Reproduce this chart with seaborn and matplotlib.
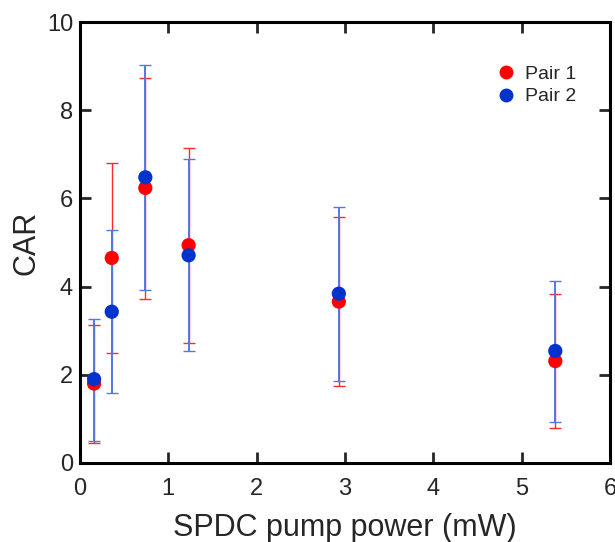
import numpy as np
import pandas as pd
import matplotlib
matplotlib.use("Agg")
import matplotlib.pyplot as plt
import seaborn as sns

# Values
power = [0.16, 0.36, 0.74, 1.23, 2.93, 5.38]

car_pair1 = [1.80, 4.65, 6.24, 4.94, 3.66, 2.31]
lo_pair1 = [0.46, 2.49, 3.73, 2.71, 1.74, 0.80]
hi_pair1 = [3.13, 6.80, 8.74, 7.14, 5.59, 3.83]

car_pair2 = [1.90, 3.43, 6.48, 4.71, 3.84, 2.54]
lo_pair2 = [0.50, 1.58, 3.92, 2.53, 1.86, 0.93]
hi_pair2 = [3.27, 5.29, 9.02, 6.89, 5.80, 4.13]

series = ["Pair 1", "Pair 2"]
colors = {"Pair 1": "#ff0000", "Pair 2": "#0033cc"}
bar_colors = {"Pair 1": "#ff2a2a", "Pair 2": "#5577e0"}
bar_widths = {"Pair 1": 1.0, "Pair 2": 1.4}

df = pd.DataFrame({
    "power": power * 2,
    "car": car_pair1 + car_pair2,
    "lo": lo_pair1 + lo_pair2,
    "hi": hi_pair1 + hi_pair2,
    "pair": ["Pair 1"] * len(power) + ["Pair 2"] * len(power),
})

sns.set_style("ticks")
plt.rcParams["font.family"] = ["Liberation Sans", "DejaVu Sans"]

fig = plt.figure(figsize=(6.15, 5.42), dpi=100)
ax = fig.add_axes([0.130, 0.146, 0.862, 0.813])

# error bars first, pair 2 on top
for name in series:
    sub = df[df["pair"] == name]
    yerr = np.vstack([sub["car"] - sub["lo"], sub["hi"] - sub["car"]])
    ax.errorbar(sub["power"], sub["car"], yerr=yerr, fmt="none",
                ecolor=bar_colors[name], elinewidth=bar_widths[name],
                capsize=4.3, capthick=1.0, zorder=2)

sns.scatterplot(data=df, x="power", y="car", hue="pair", palette=colors,
                hue_order=series, s=105, linewidth=0, ax=ax, zorder=3)

ax.set_xlim(0, 6)
ax.set_ylim(0, 10)
ax.set_xticks(range(0, 7))
ax.set_yticks(range(0, 11, 2))
ax.tick_params(direction="in", length=8, width=2, labelsize=17,
               top=True, right=True)
ax.tick_params(axis="x", pad=11)
ax.tick_params(axis="y", pad=5)
for sp in ax.spines.values():
    sp.set_linewidth(2.2)
    sp.set_color("black")

ax.set_xlabel("SPDC pump power (mW)", fontsize=22, labelpad=9)
ax.set_ylabel("CAR", fontsize=22, labelpad=4)

leg = ax.legend(loc="upper right", bbox_to_anchor=(0.981, 0.955),
                frameon=False, fontsize=14, handletextpad=0.3,
                borderaxespad=0.8, labelspacing=0.25, handlelength=1.4)
for h in leg.legend_handles:
    if hasattr(h, "set_markersize"):
        h.set_markersize(10)

fig.savefig("out.png", dpi=100)
